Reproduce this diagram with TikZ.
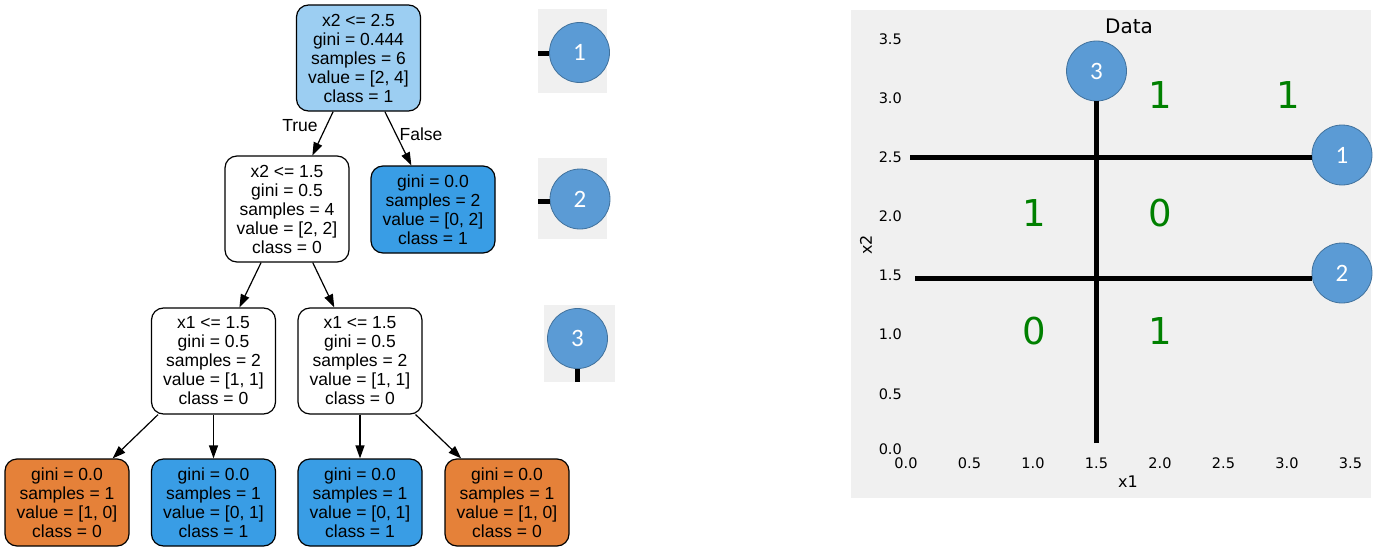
\documentclass[tikz,border=0pt]{standalone}
\usepackage{fontspec}
\setmainfont{Liberation Sans}
\newfontfamily\dejavu{DejaVu Sans}
\newfontfamily\carlito{Carlito}
\usetikzlibrary{arrows.meta}
\definecolor{treeblue}{HTML}{399DE5}
\definecolor{treeorange}{HTML}{E58139}
\definecolor{treelight}{HTML}{9CCEF2}
\definecolor{panelgray}{HTML}{F0F0F0}
\definecolor{circfill}{HTML}{5B9BD5}
\definecolor{circline}{HTML}{41719C}
\definecolor{numgreen}{HTML}{008000}
\begin{document}
\begin{tikzpicture}[x=1pt,y=-1pt,
  treenode/.style={draw=black, line width=1.2pt, rounded corners=12pt, align=center,
    minimum width=124pt, inner sep=0pt, font=\fontsize{17.5}{19}\selectfont},
  bignode/.style={treenode, minimum height=106pt},
  leafnode/.style={treenode, minimum height=87pt},
  treeedge/.style={-{Triangle[length=13pt,width=9pt]}, line width=1.2pt},
  elabel/.style={font=\fontsize{17.5}{19}\selectfont, inner sep=0pt},
  ball/.style={circle, fill=circfill, draw=circline, line width=0.8pt, minimum size=60pt,
    inner sep=0pt, text=white, font=\carlito\fontsize{25}{25}\selectfont},
  cutline/.style={line width=5pt, black},
  ticklabel/.style={font=\dejavu\fontsize{14.5}{15}\selectfont, inner sep=0pt},
  cls/.style={font=\dejavu\fontsize{37}{37}\selectfont, text=numgreen, inner sep=0pt}
]
\useasboundingbox (0,0) rectangle (1373,551);

% ---------------- tree ----------------
\node[bignode, fill=treelight] (root) at (358.5,58) {x2 <= 2.5\\gini = 0.444\\samples = 6\\value = [2, 4]\\class = 1};
\node[bignode, fill=white] (lc) at (287,209) {x2 <= 1.5\\gini = 0.5\\samples = 4\\value = [2, 2]\\class = 0};
\node[leafnode, fill=treeblue] (rc) at (433,209.5) {gini = 0.0\\samples = 2\\value = [0, 2]\\class = 1};
\node[bignode, fill=white] (la) at (213.5,361) {x1 <= 1.5\\gini = 0.5\\samples = 2\\value = [1, 1]\\class = 0};
\node[bignode, fill=white] (lb) at (360,361) {x1 <= 1.5\\gini = 0.5\\samples = 2\\value = [1, 1]\\class = 0};
\node[leafnode, fill=treeorange] (f1) at (67,502.5) {gini = 0.0\\samples = 1\\value = [1, 0]\\class = 0};
\node[leafnode, fill=treeblue] (f2) at (213.5,502.5) {gini = 0.0\\samples = 1\\value = [0, 1]\\class = 1};
\node[leafnode, fill=treeblue] (f3) at (360,502.5) {gini = 0.0\\samples = 1\\value = [0, 1]\\class = 1};
\node[leafnode, fill=treeorange] (f4) at (507,502.5) {gini = 0.0\\samples = 1\\value = [1, 0]\\class = 0};

\draw[treeedge] (root) -- (lc);
\draw[treeedge] (root) -- (rc);
\draw[treeedge] (lc) -- (la);
\draw[treeedge] (lc) -- (lb);
\draw[treeedge] (la) -- (f1);
\draw[treeedge] (la) -- (f2);
\draw[treeedge] (lb) -- (f3);
\draw[treeedge] (lb) -- (f4);
\node[elabel] (ltrue) at (300,126) {True};
\node[elabel] (lfalse) at (421,134) {False};

% ---------------- small panels ----------------
\fill[panelgray] (538,9) rectangle (607,93);
\fill[panelgray] (538,158) rectangle (607,239);
\fill[panelgray] (544,305) rectangle (615,382);
\node[ball] (b1) at (579.5,52.5) {1};
\node[ball] (b2) at (580,199) {2};
\node[ball] (b3) at (577.5,338.5) {3};
\coordinate (s1) at (538,54);
\coordinate (s2) at (538,201);
\coordinate (s3) at (577.5,382);
\draw[cutline] (s1) -- (s1 -| b1.west);
\draw[cutline] (s2) -- (s2 -| b2.west);
\draw[cutline] (s3) -- (b3.south);

% ---------------- plot ----------------
\fill[panelgray] (851,10) rectangle (1371,498);
\node[font=\dejavu\fontsize{20}{20}\selectfont, inner sep=0pt] (title) at (1129,26) {Data};
\node[font=\dejavu\fontsize{16}{16}\selectfont, inner sep=0pt] (xlab) at (1128,482) {x1};
\node[font=\dejavu\fontsize{16}{16}\selectfont, inner sep=0pt, rotate=90] (ylab) at (866,245) {x2};
\foreach \v/\t [count=\i] in {0/0.0,0.5/0.5,1/1.0,1.5/1.5,2/2.0,2.5/2.5,3/3.0,3.5/3.5}{
  \node[ticklabel] (xt\i) at ({906+127*\v},463) {\t};
}
\foreach \v/\t [count=\i] in {0.5/0.5,1/1.0,1.5/1.5,2/2.0,2.5/2.5,3/3.0,3.5/3.5}{
  \node[ticklabel, anchor=east] (yt\i) at (902,{453-118.3*\v}) {\t};
}
\node[ticklabel, anchor=east] (yt0) at (902,449) {0.0};
\node[ball] (c1) at (1342,155) {1};
\node[ball] (c2) at (1342,273) {2};
\node[ball] (c3) at (1096.5,71) {3};
\coordinate (h1) at (910,157);
\coordinate (h2) at (915,278);
\coordinate (v1) at (1096.5,443);
\draw[cutline] (h1) -- (h1 -| c1.west);
\draw[cutline] (h2) -- (h2 -| c2.west);
\draw[cutline] (v1) -- (c3.south);

\node[cls] (g1) at (1160,95) {1};
\node[cls] (g2) at (1288,95) {1};
\node[cls] (g3) at (1034,213) {1};
\node[cls] (g4) at (1160,213) {0};
\node[cls] (g5) at (1034,331) {0};
\node[cls] (g6) at (1160,331) {1};
\end{tikzpicture}
\end{document}
